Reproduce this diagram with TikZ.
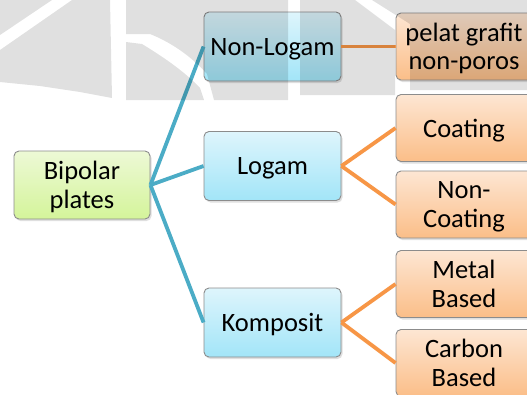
\documentclass[tikz,border=0pt]{standalone}
\usepackage{fontspec}
\setmainfont{Carlito}
\usetikzlibrary{shadows}

\definecolor{linkblue}{HTML}{4BACC6}
\definecolor{linkorange}{HTML}{F79646}
\definecolor{blueTop}{HTML}{DEF5FC}
\definecolor{blueBot}{HTML}{A2E5F8}
\definecolor{greenTop}{HTML}{EDF9D6}
\definecolor{greenBot}{HTML}{D4F49A}
\definecolor{orangeTop}{HTML}{FDE6D3}
\definecolor{orangeBot}{HTML}{FBBE88}
\definecolor{boxline}{HTML}{8C8C8C}

\tikzset{
  card/.style={rounded corners=5pt, draw=boxline, line width=0.9pt,
    align=center, inner sep=0pt, text depth=0pt,
    font=\fontsize{26.5}{28.5}\selectfont,
    drop shadow={shadow xshift=1.5pt, shadow yshift=-2pt, opacity=0.25}},
  rootcard/.style={card, minimum width=136pt, minimum height=68pt,
    top color=greenTop, bottom color=greenBot},
  midcard/.style={card, minimum width=137pt, minimum height=69pt,
    top color=blueTop, bottom color=blueBot},
  leafcard/.style={card, minimum width=136pt, minimum height=67pt,
    top color=orangeTop, bottom color=orangeBot},
  bluelink/.style={draw=linkblue, line width=3.8pt},
  orangelink/.style={draw=linkorange, line width=3.8pt},
  shade/.style={fill=black, opacity=0.12, draw=none}
}

\begin{document}
\begin{tikzpicture}[x=1pt, y=-1pt]
  \useasboundingbox (0,0) rectangle (527,394);
  \clip (0,0) rectangle (527,394);
  \fill[white] (0,0) rectangle (527,394);

  % tree nodes
  \node[rootcard] (root) at (82,185) {Bipolar\\plates};
  \node[midcard] (nonlogam) at (272.5,46.5) {Non-Logam};
  \node[midcard] (logam) at (272.5,166) {Logam};
  \node[midcard] (komposit) at (272.5,322.5) {Komposit};
  \node[leafcard] (grafit) at (464,46.5) {pelat grafit\\non-poros};
  \node[leafcard] (coating) at (464,128) {Coating};
  \node[leafcard] (noncoating) at (464,204.5) {Non-\\Coating};
  \node[leafcard] (metal) at (464,284) {Metal\\Based};
  \node[leafcard] (carbon) at (464,363) {Carbon\\Based};

  % connectors
  \path[bluelink] (root.east) -- (nonlogam.west);
  \path[bluelink] (root.east) -- (logam.west);
  \path[bluelink] (root.east) -- (komposit.west);
  \path[orangelink] (nonlogam.east) -- (grafit.west);
  \path[orangelink] (logam.east) -- (coating.west);
  \path[orangelink] (logam.east) -- (noncoating.west);
  \path[orangelink] (komposit.east) -- (metal.west);
  \path[orangelink] (komposit.east) -- (carbon.west);

  % faint grey emblem in the upper band
  \fill[shade] (0,0) -- (52,0) -- (0,35) -- cycle;
  \fill[shade] (72,0) -- (110,0) -- (112,98) -- (80,92) -- (40,86) -- (0,82) -- (0,50) -- cycle;
  \fill[shade] (126,0) -- (288,0) -- (288,100) -- (214,100) -- (207,74)
     .. controls (190,55) and (170,42) .. (150,34) -- (126,34) -- cycle;
  \fill[shade] (126,42) -- (142,44) .. controls (165,58) and (185,72) .. (200,88)
     -- (204,100) -- (126,100) -- cycle;
  \fill[shade] (300,0) -- (355,0) -- (395,30) -- (395,95) -- (300,95) -- cycle;
  \fill[shade] (372,0) -- (527,0) -- (527,90) -- (410,90) -- (410,24) -- cycle;
\end{tikzpicture}
\end{document}
